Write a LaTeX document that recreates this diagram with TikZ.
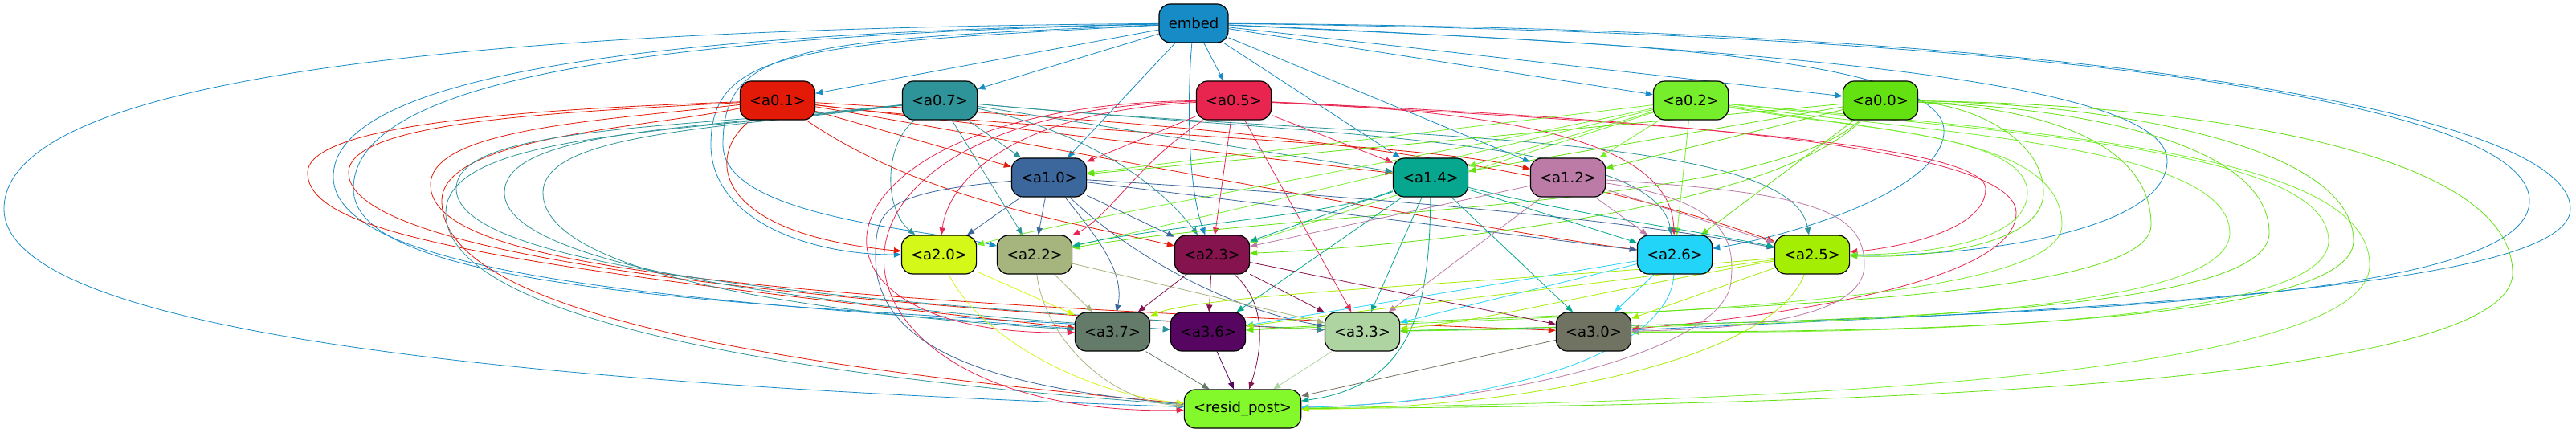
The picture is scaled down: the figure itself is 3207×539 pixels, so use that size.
\documentclass[tikz,border=0pt]{standalone}
\usepackage{fontspec}
\setmainfont{DejaVu Sans}
\usetikzlibrary{arrows.meta}
\pgfdeclarelayer{bg}
\pgfdeclarelayer{edges}
\pgfsetlayers{bg,edges,main}
\definecolor{cE}{HTML}{168BC6}
\definecolor{c01}{HTML}{E31A07}
\definecolor{c07}{HTML}{2E9499}
\definecolor{c05}{HTML}{E8254F}
\definecolor{c02}{HTML}{76EE2C}
\definecolor{c00}{HTML}{63E110}
\definecolor{c10}{HTML}{3B679C}
\definecolor{c14}{HTML}{07A78F}
\definecolor{c12}{HTML}{BC7BA7}
\definecolor{c20}{HTML}{D4F817}
\definecolor{c22}{HTML}{A6B47E}
\definecolor{c23}{HTML}{84134E}
\definecolor{c26}{HTML}{22D4F7}
\definecolor{c25}{HTML}{A4EE03}
\definecolor{c37}{HTML}{647B69}
\definecolor{c36}{HTML}{560660}
\definecolor{c33}{HTML}{AED4A2}
\definecolor{c30}{HTML}{717362}
\definecolor{cR}{HTML}{83F82B}
\begin{document}
\begin{tikzpicture}[x=0.5pt,y=0.5pt,
  nd/.style={draw=black, line width=0.6pt, rounded corners=7pt, minimum height=24pt,
    inner xsep=5.85pt, inner ysep=0pt, font=\fontsize{9}{10}\selectfont, text=black},
  ed/.style={draw=#1, line width=0.4pt, -{Triangle[length=4.5pt,width=3.6pt]}}]
\useasboundingbox (0,0) rectangle (3207,-539);
\begin{pgfonlayer}{bg}
\fill[white] (0,0) rectangle (3207,-539);
\end{pgfonlayer}
% nodes
\node[nd,fill=cE] (E) at (1486,-29) {embed};
\node[nd,fill=c01] (a01) at (968,-125) {<a0.1>};
\node[nd,fill=c07] (a07) at (1170,-125) {<a0.7>};
\node[nd,fill=c05] (a05) at (1536,-125) {<a0.5>};
\node[nd,fill=c02] (a02) at (2105,-125) {<a0.2>};
\node[nd,fill=c00] (a00) at (2341,-125) {<a0.0>};
\node[nd,fill=c10] (a10) at (1306,-221) {<a1.0>};
\node[nd,fill=c14] (a14) at (1781,-221) {<a1.4>};
\node[nd,fill=c12] (a12) at (1952,-221) {<a1.2>};
\node[nd,fill=c20] (a20) at (1169,-317) {<a2.0>};
\node[nd,fill=c22] (a22) at (1288,-317) {<a2.2>};
\node[nd,fill=c23] (a23) at (1509,-317) {<a2.3>};
\node[nd,fill=c26] (a26) at (2085,-317) {<a2.6>};
\node[nd,fill=c25] (a25) at (2256,-317) {<a2.5>};
\node[nd,fill=c37] (a37) at (1385,-413) {<a3.7>};
\node[nd,fill=c36] (a36) at (1504,-413) {<a3.6>};
\node[nd,fill=c33] (a33) at (1696,-413) {<a3.3>};
\node[nd,fill=c30] (a30) at (1984,-413) {<a3.0>};
\node[nd,fill=cR] (R) at (1547,-509) {<resid\_post>};
\begin{pgfonlayer}{edges}
% embed
\draw[ed=cE] (E) -- (a01);
\draw[ed=cE] (E) -- (a07);
\draw[ed=cE] (E) -- (a05);
\draw[ed=cE] (E) -- (a02);
\draw[ed=cE] (E) -- (a00);
\draw[ed=cE] (E) -- (a10);
\draw[ed=cE] (E) -- (a14);
\draw[ed=cE] (E) -- (a12);
\draw[ed=cE] (E) .. controls (1478,-120) and (1478,-230) .. (a23);
\draw[ed=cE] (E) .. controls (1000,-55) and (885,-60) .. (885,-180) .. controls (885,-270) and (1000,-317) .. (a20);
\draw[ed=cE] (E) .. controls (1000,-50) and (900,-55) .. (900,-180) .. controls (900,-270) and (1150,-285) .. (a22);
\draw[ed=cE] (E) .. controls (900,-40) and (415,-80) .. (415,-220) .. controls (415,-350) and (900,-375) .. (a37);
\draw[ed=cE] (E) .. controls (800,-45) and (440,-100) .. (440,-235) .. controls (440,-360) and (900,-378) .. (a36);
\draw[ed=cE] (E) .. controls (700,-35) and (5,-80) .. (5,-260) .. controls (5,-420) and (700,-480) .. (R);
\draw[ed=cE] (E) .. controls (1900,-50) and (2410,-60) .. (2420,-160) .. controls (2425,-230) and (2250,-290) .. (a26);
\draw[ed=cE] (E) .. controls (2200,-60) and (2698,-100) .. (2698,-200) .. controls (2698,-290) and (2450,-320) .. (a25);
\draw[ed=cE] (E) .. controls (2500,-40) and (3149,-120) .. (3149,-250) .. controls (3149,-380) and (2500,-395) .. (a33);
\draw[ed=cE] (E) .. controls (2600,-35) and (3200,-140) .. (3200,-260) .. controls (3200,-360) and (2600,-385) .. (a30);
% a0.1
\draw[ed=c01] (a01) -- (a10);
\draw[ed=c01] (a01) -- (a14);
\draw[ed=c01] (a01) .. controls (1300,-165) and (1750,-175) .. (a12);
\draw[ed=c01] (a01) .. controls (1150,-250) and (1350,-280) .. (a23);
\draw[ed=c01] (a01) .. controls (1300,-180) and (1800,-280) .. (a26);
\draw[ed=c01] (a01) .. controls (1400,-150) and (1850,-175) .. (a25);
\draw[ed=c01] (a01) .. controls (880,-190) and (880,-290) .. (a20);
\draw[ed=c01] (a01) .. controls (700,-135) and (383,-150) .. (383,-215) .. controls (383,-290) and (600,-330) .. (a37);
\draw[ed=c01] (a01) .. controls (700,-140) and (434,-150) .. (434,-215) .. controls (434,-300) and (800,-368) .. (a33);
\draw[ed=c01] (a01) .. controls (750,-150) and (536,-160) .. (536,-230) .. controls (536,-330) and (900,-372) .. (a30);
\draw[ed=c01] (a01) .. controls (800,-160) and (550,-170) .. (550,-250) .. controls (550,-380) and (900,-450) .. (R);
% a0.7
\draw[ed=c07] (a07) -- (a10);
\draw[ed=c07] (a07) -- (a14);
\draw[ed=c07] (a07) .. controls (1100,-180) and (1100,-260) .. (a20);
\draw[ed=c07] (a07) -- (a22);
\draw[ed=c07] (a07) .. controls (1380,-170) and (1460,-250) .. (a23);
\draw[ed=c07] (a07) .. controls (1650,-170) and (2060,-170) .. (a26);
\draw[ed=c07] (a07) .. controls (1700,-175) and (2230,-160) .. (a25);
\draw[ed=c07] (a07) .. controls (900,-160) and (676,-165) .. (676,-240) .. controls (676,-340) and (1000,-390) .. (a37);
\draw[ed=c07] (a07) .. controls (880,-160) and (628,-160) .. (628,-240) .. controls (628,-330) and (1000,-382) .. (a36);
\draw[ed=c07] (a07) .. controls (860,-160) and (568,-155) .. (568,-235) .. controls (568,-330) and (1000,-376) .. (a33);
\draw[ed=c07] (a07) .. controls (850,-165) and (555,-165) .. (555,-265) .. controls (555,-400) and (1000,-470) .. (R);
% a0.5
\draw[ed=c05] (a05) -- (a10);
\draw[ed=c05] (a05) -- (a14);
\draw[ed=c05] (a05) -- (a23);
\draw[ed=c05] (a05) -- (a33);
\draw[ed=c05] (a05) .. controls (1250,-140) and (1180,-230) .. (a20);
\draw[ed=c05] (a05) .. controls (1420,-200) and (1380,-270) .. (a22);
\draw[ed=c05] (a05) .. controls (1900,-140) and (2080,-180) .. (a26);
\draw[ed=c05] (a05) .. controls (2000,-150) and (2472,-175) .. (2472,-235) .. controls (2472,-290) and (2350,-310) .. (a25);
\draw[ed=c05] (a05) .. controls (2100,-150) and (2510,-185) .. (2510,-265) .. controls (2510,-360) and (2150,-400) .. (a30);
\draw[ed=c05] (a05) .. controls (1000,-130) and (950,-420) .. (a37);
\draw[ed=c05] (a05) .. controls (950,-140) and (1000,-520) .. (R);
% a0.2
\draw[ed=c02] (a02) -- (a10);
\draw[ed=c02] (a02) -- (a14);
\draw[ed=c02] (a02) -- (a12);
\draw[ed=c02] (a02) -- (a26);
\draw[ed=c02] (a02) -- (a23);
\draw[ed=c02] (a02) .. controls (1800,-200) and (1500,-270) .. (a22);
\draw[ed=c02] (a02) .. controls (1700,-210) and (1350,-270) .. (a20);
\draw[ed=c02] (a02) .. controls (2300,-160) and (2524,-165) .. (2524,-240) .. controls (2524,-300) and (2400,-317) .. (a25);
\draw[ed=c02] (a02) .. controls (2350,-165) and (2567,-170) .. (2567,-280) .. controls (2567,-380) and (2000,-392) .. (a36);
\draw[ed=c02] (a02) .. controls (2400,-165) and (2776,-180) .. (2776,-290) .. controls (2776,-400) and (2200,-405) .. (a33);
\draw[ed=c02] (a02) .. controls (2500,-165) and (2899,-185) .. (2899,-300) .. controls (2899,-410) and (2300,-415) .. (a30);
\draw[ed=c02] (a02) .. controls (2550,-165) and (2950,-190) .. (2950,-330) .. controls (2950,-470) and (2200,-500) .. (R);
% a0.0
\draw[ed=c00] (a00) -- (a10);
\draw[ed=c00] (a00) -- (a14);
\draw[ed=c00] (a00) -- (a12);
\draw[ed=c00] (a00) -- (a26);
\draw[ed=c00] (a00) .. controls (2200,-270) and (1700,-310) .. (a23);
\draw[ed=c00] (a00) .. controls (2200,-260) and (1600,-262) .. (a22);
\draw[ed=c00] (a00) .. controls (2450,-130) and (2544,-170) .. (2544,-240) .. controls (2544,-305) and (2400,-322) .. (a25);
\draw[ed=c00] (a00) .. controls (2550,-135) and (2678,-180) .. (2678,-280) .. controls (2678,-385) and (2000,-385) .. (a36);
\draw[ed=c00] (a00) .. controls (2600,-135) and (2825,-180) .. (2825,-290) .. controls (2825,-400) and (2200,-400) .. (a33);
\draw[ed=c00] (a00) .. controls (2650,-130) and (2930,-185) .. (2930,-300) .. controls (2930,-410) and (2300,-413) .. (a30);
\draw[ed=c00] (a00) .. controls (2750,-130) and (3128,-190) .. (3128,-340) .. controls (3128,-480) and (2300,-505) .. (R);
% a1.0
\draw[ed=c10] (a10) -- (a20);
\draw[ed=c10] (a10) -- (a22);
\draw[ed=c10] (a10) -- (a23);
\draw[ed=c10] (a10) -- (a26);
\draw[ed=c10] (a10) .. controls (1700,-245) and (2000,-270) .. (a25);
\draw[ed=c10] (a10) .. controls (1420,-330) and (1550,-390) .. (a33);
\draw[ed=c10] (a10) .. controls (1370,-300) and (1400,-340) .. (a37);
\draw[ed=c10] (a10) .. controls (1100,-240) and (1090,-260) .. (1090,-320) .. controls (1090,-420) and (1200,-480) .. (R);
% a1.4
\draw[ed=c14] (a14) -- (a23);
\draw[ed=c14] (a14) .. controls (1650,-270) and (1450,-280) .. (a22);
\draw[ed=c14] (a14) -- (a26);
\draw[ed=c14] (a14) .. controls (1950,-265) and (2100,-285) .. (a25);
\draw[ed=c14] (a14) -- (a36);
\draw[ed=c14] (a14) -- (a33);
\draw[ed=c14] (a14) -- (a30);
\draw[ed=c14] (a14) .. controls (1780,-380) and (1760,-480) .. (R);
% a1.2
\draw[ed=c12] (a12) -- (a23);
\draw[ed=c12] (a12) -- (a26);
\draw[ed=c12] (a12) -- (a25);
\draw[ed=c12] (a12) -- (a33);
\draw[ed=c12] (a12) .. controls (2250,-240) and (2321,-260) .. (2321,-330) .. controls (2321,-400) and (2150,-410) .. (a30);
\draw[ed=c12] (a12) .. controls (2150,-250) and (2160,-300) .. (2155,-350) .. controls (2150,-430) and (1900,-500) .. (R);
% layer 2
\draw[ed=c20] (a20) -- (a37);
\draw[ed=c20] (a20) .. controls (1220,-420) and (1350,-490) .. (R);
\draw[ed=c22] (a22) -- (a37);
\draw[ed=c22] (a22) -- (a33);
\draw[ed=c22] (a22) .. controls (1300,-420) and (1380,-500) .. (R);
\draw[ed=c23] (a23) -- (a37);
\draw[ed=c23] (a23) -- (a36);
\draw[ed=c23] (a23) -- (a33);
\draw[ed=c23] (a23) -- (a30);
\draw[ed=c23] (a23) .. controls (1580,-380) and (1570,-440) .. (R);
\draw[ed=c26] (a26) -- (a36);
\draw[ed=c26] (a26) -- (a33);
\draw[ed=c26] (a26) -- (a30);
\draw[ed=c26] (a26) .. controls (2080,-430) and (1900,-500) .. (R);
\draw[ed=c25] (a25) -- (a30);
\draw[ed=c25] (a25) .. controls (1900,-365) and (1700,-385) .. (a36);
\draw[ed=c25] (a25) .. controls (2000,-360) and (1850,-400) .. (a33);
\draw[ed=c25] (a25) .. controls (1900,-350) and (1500,-365) .. (a37);
\draw[ed=c25] (a25) .. controls (2200,-460) and (1850,-510) .. (R);
% layer 3
\draw[ed=c37] (a37) -- (R);
\draw[ed=c36] (a36) -- (R);
\draw[ed=c33] (a33) -- (R);
\draw[ed=c30] (a30) -- (R);
\end{pgfonlayer}
\end{tikzpicture}
\end{document}
